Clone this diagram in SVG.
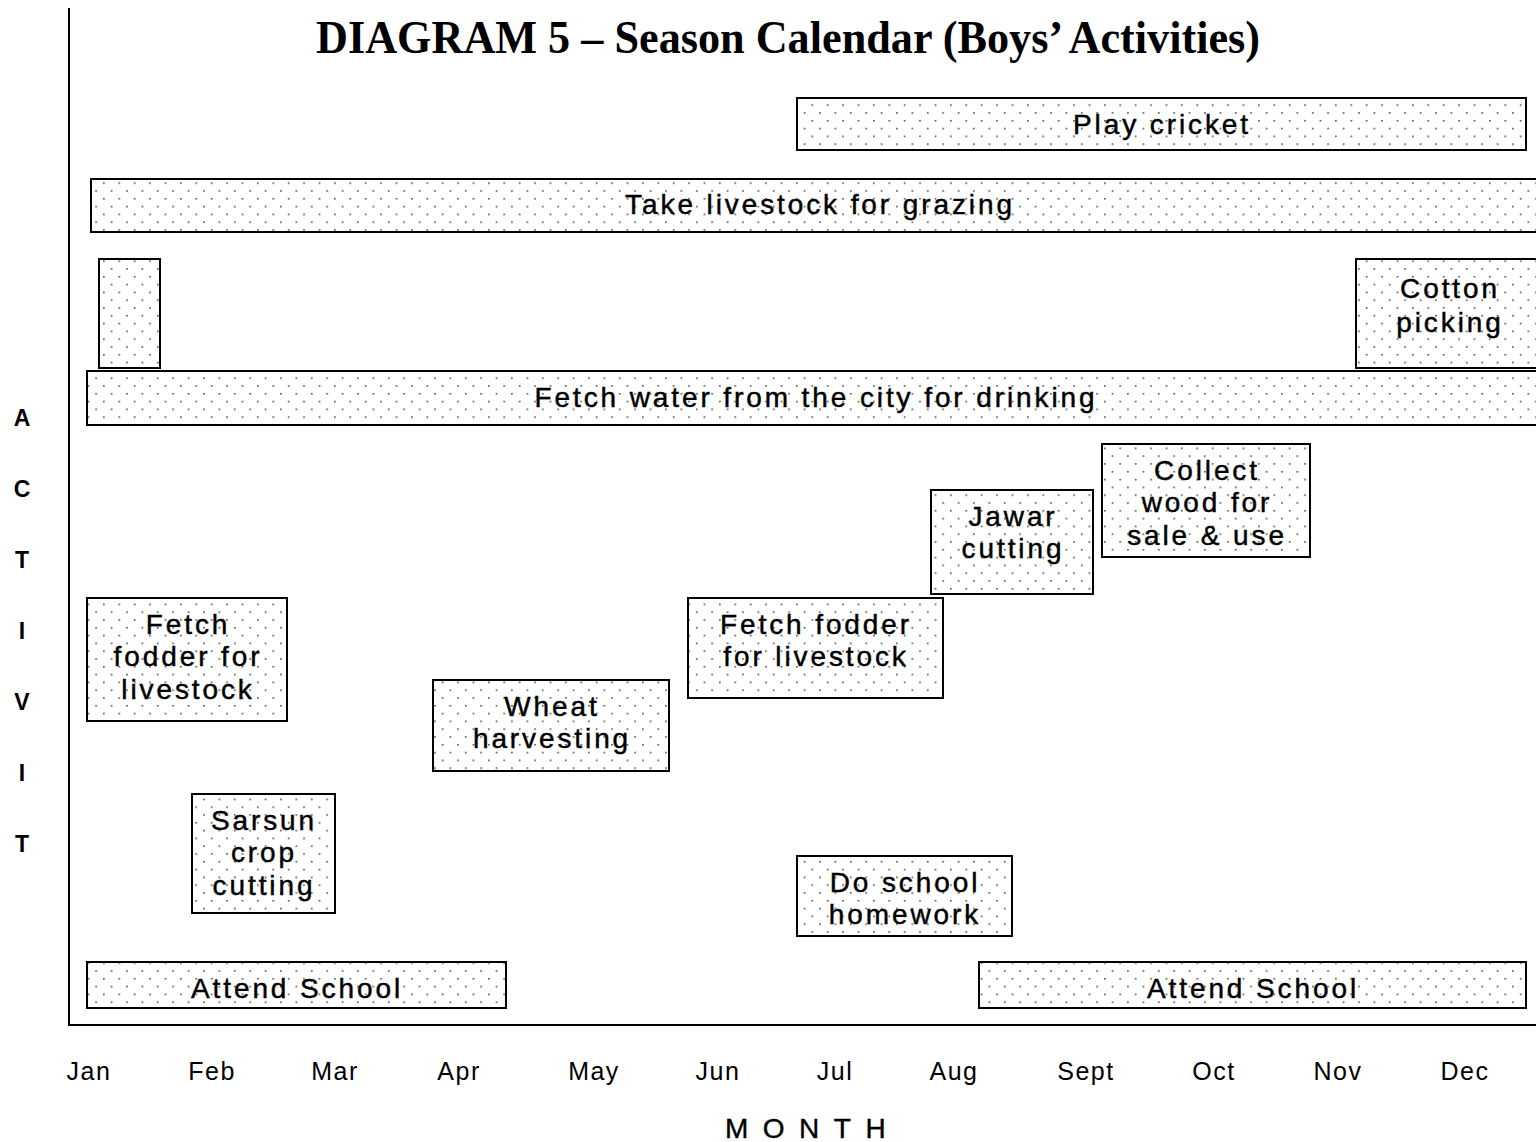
<svg xmlns="http://www.w3.org/2000/svg" width="1536" height="1142" viewBox="0 0 1536 1142">
  <defs>
    <!-- stipple fill used for every activity bar -->
    <pattern id="dots" width="15.4" height="15.6" patternUnits="userSpaceOnUse">
      <rect x="3" y="3" width="1.5" height="1.5" fill="#333"/>
      <rect x="10.7" y="10.8" width="1.5" height="1.5" fill="#333"/>
    </pattern>
  </defs>
  <style>
    .bar { fill: url(#dots); stroke: #000; stroke-width: 2; }
    .lbl { font-family: "Liberation Sans", Arial, sans-serif; font-size: 28px; letter-spacing: 2.9px; text-anchor: middle; fill: #000; stroke: #000; stroke-width: 0.45px; }
    .axis { stroke: #000; stroke-width: 2; fill: none; }
    .month { font-family: "Liberation Sans", Arial, sans-serif; font-size: 25px; letter-spacing: 1.5px; text-anchor: middle; fill: #000; }
    .vlet { font-family: "Liberation Sans", Arial, sans-serif; font-size: 23px; font-weight: bold; text-anchor: middle; fill: #000; }
    .title { font-family: "Liberation Serif", "Times New Roman", serif; font-size: 46px; font-weight: bold; fill: #000; }
  </style>
  <rect width="1536" height="1142" fill="#fff"/>

  <text class="title" x="316" y="53" textLength="944" lengthAdjust="spacingAndGlyphs">DIAGRAM 5 – Season Calendar (Boys’ Activities)</text>

  <!-- axes -->
  <g id="axes">
    <path class="axis" d="M69 8 V1025 H1540"/>
  </g>

  <!-- vertical axis title -->
  <g id="y-title">
    <text class="vlet" x="22" y="426">A</text>
    <text class="vlet" x="22" y="497">C</text>
    <text class="vlet" x="22" y="568">T</text>
    <text class="vlet" x="22" y="639">I</text>
    <text class="vlet" x="22" y="710">V</text>
    <text class="vlet" x="22" y="781">I</text>
    <text class="vlet" x="22" y="852">T</text>
  </g>

  <!-- month labels -->
  <g id="months">
    <text class="month" x="89" y="1080">Jan</text>
    <text class="month" x="212" y="1080">Feb</text>
    <text class="month" x="335" y="1080">Mar</text>
    <text class="month" x="459" y="1080">Apr</text>
    <text class="month" x="594" y="1080">May</text>
    <text class="month" x="718" y="1080">Jun</text>
    <text class="month" x="835" y="1080">Jul</text>
    <text class="month" x="954" y="1080">Aug</text>
    <text class="month" x="1086" y="1080">Sept</text>
    <text class="month" x="1214" y="1080">Oct</text>
    <text class="month" x="1338" y="1080">Nov</text>
    <text class="month" x="1465" y="1080">Dec</text>
  </g>
  <text x="725" y="1138" font-family="Liberation Sans, Arial, sans-serif" font-size="28" stroke="#000" stroke-width="0.4" letter-spacing="14.5">MONTH</text>

  <!-- connectors: none in this chart -->
  <g id="connectors"></g>

  <!-- activity bars -->
  <g id="play-cricket">
    <rect class="bar" x="797" y="98" width="729" height="52"/>
    <text class="lbl" x="1162" y="134">Play cricket</text>
  </g>
  <g id="grazing">
    <rect class="bar" x="91" y="179" width="1450" height="53"/>
    <text class="lbl" x="820" y="214">Take livestock for grazing</text>
  </g>
  <g id="cotton-jan">
    <rect class="bar" x="99" y="259" width="61" height="109"/>
  </g>
  <g id="cotton-picking">
    <rect class="bar" x="1356" y="259" width="185" height="109"/>
    <text class="lbl" x="1450" y="298">Cotton</text>
    <text class="lbl" x="1450" y="332">picking</text>
  </g>
  <g id="fetch-water">
    <rect class="bar" x="87" y="371" width="1454" height="54"/>
    <text class="lbl" x="816" y="407">Fetch water from the city for drinking</text>
  </g>
  <g id="collect-wood">
    <rect class="bar" x="1102" y="444" width="208" height="113"/>
    <text class="lbl" x="1207" y="480">Collect</text>
    <text class="lbl" x="1207" y="512">wood for</text>
    <text class="lbl" x="1207" y="545">sale &amp; use</text>
  </g>
  <g id="jawar-cutting">
    <rect class="bar" x="931" y="490" width="162" height="104"/>
    <text class="lbl" x="1013" y="526">Jawar</text>
    <text class="lbl" x="1013" y="558">cutting</text>
  </g>
  <g id="fodder-jun">
    <rect class="bar" x="688" y="598" width="255" height="100"/>
    <text class="lbl" x="816" y="634">Fetch fodder</text>
    <text class="lbl" x="816" y="666">for livestock</text>
  </g>
  <g id="fodder-jan">
    <rect class="bar" x="87" y="598" width="200" height="123"/>
    <text class="lbl" x="188" y="634">Fetch</text>
    <text class="lbl" x="188" y="666">fodder for</text>
    <text class="lbl" x="188" y="699">livestock</text>
  </g>
  <g id="wheat">
    <rect class="bar" x="433" y="680" width="236" height="91"/>
    <text class="lbl" x="552" y="716">Wheat</text>
    <text class="lbl" x="552" y="748">harvesting</text>
  </g>
  <g id="sarsun">
    <rect class="bar" x="192" y="794" width="143" height="119"/>
    <text class="lbl" x="264" y="830">Sarsun</text>
    <text class="lbl" x="264" y="862">crop</text>
    <text class="lbl" x="264" y="895">cutting</text>
  </g>
  <g id="homework">
    <rect class="bar" x="797" y="856" width="215" height="80"/>
    <text class="lbl" x="905" y="892">Do school</text>
    <text class="lbl" x="905" y="924">homework</text>
  </g>
  <g id="school-1">
    <rect class="bar" x="87" y="962" width="419" height="46"/>
    <text class="lbl" x="297" y="998">Attend School</text>
  </g>
  <g id="school-2">
    <rect class="bar" x="979" y="962" width="547" height="46"/>
    <text class="lbl" x="1253" y="998">Attend School</text>
  </g>
</svg>
